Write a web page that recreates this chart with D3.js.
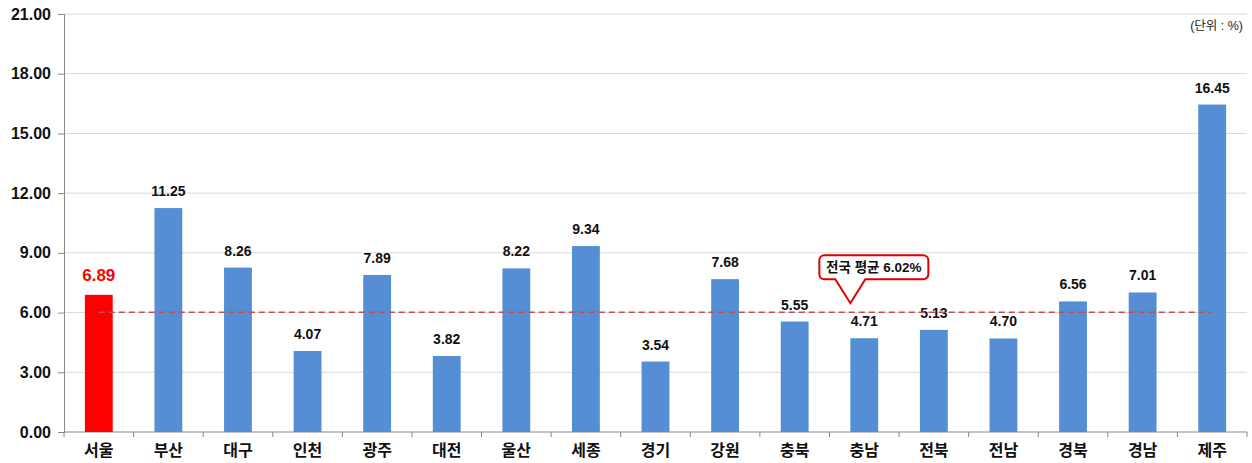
<!DOCTYPE html>
<html>
<head>
<meta charset="utf-8">
<script src="https://cdn.jsdelivr.net/npm/d3@7"></script>
<style>
  body { margin: 0; background: #fff; }
  text { font-family: "Liberation Sans", Arial, "Noto Sans CJK KR", sans-serif; font-weight: bold; }
</style>
</head>
<body>
<svg id="chart"></svg>
<script>
// regions and their rate (%)
const regions = ['서울','부산','대구','인천','광주','대전','울산','세종','경기','강원','충북','충남','전북','전남','경북','경남','제주'];
const rates = [6.89,11.25,8.26,4.07,7.89,3.82,8.22,9.34,3.54,7.68,5.55,4.71,5.13,4.70,6.56,7.01,16.45];
const yTicks = [0,3,6,9,12,15,18,21];
const avgRate = 6.02;
const avgLabel = '전국 평균 6.02%';
const unitLabel = '(단위 : %)';

const WIDTH = 1252, HEIGHT = 463;
const MARGIN = {left: 64, right: 5, top: 14, bottom: 31};

let svg = d3.select('#chart').attr('width', WIDTH).attr('height', HEIGHT);

let xScale = d3.scaleBand()
    .domain(regions)
    .range([MARGIN.left, WIDTH - MARGIN.right])
    .paddingInner(0.6)
    .paddingOuter(0.3);
let yScale = d3.scaleLinear()
    .domain([0, 21])
    .range([HEIGHT - MARGIN.bottom, MARGIN.top]);

// gridlines
svg.append('g').selectAll('line')
    .data(yTicks.filter(d => d > 0))
    .join('line')
    .attr('x1', MARGIN.left).attr('x2', WIDTH - MARGIN.right)
    .attr('y1', d => yScale(d)).attr('y2', d => yScale(d))
    .attr('stroke', '#d9d9d9').attr('stroke-width', 1);

// y axis
let yAxis = svg.append('g')
    .attr('transform', `translate(${MARGIN.left},0)`)
    .call(d3.axisLeft(yScale).tickValues(yTicks).tickFormat(d3.format('.2f')).tickSize(6).tickPadding(7));
yAxis.select('.domain').attr('stroke', '#888');
yAxis.selectAll('.tick line').attr('stroke', '#888');
yAxis.selectAll('.tick text').attr('font-size', '16px').attr('fill', '#111');

// x axis with ticks between categories
let xAxisG = svg.append('g').attr('transform', `translate(0,${yScale(0)})`);
xAxisG.append('line')
    .attr('x1', MARGIN.left).attr('x2', WIDTH - MARGIN.right)
    .attr('stroke', '#888');
let bounds = d3.range(regions.length + 1).map(i => MARGIN.left + (WIDTH - MARGIN.left - MARGIN.right) * i / regions.length);
xAxisG.selectAll('.sep')
    .data(bounds)
    .join('line')
    .attr('class', 'sep')
    .attr('x1', d => d).attr('x2', d => d)
    .attr('y1', 0).attr('y2', 5)
    .attr('stroke', '#888');
xAxisG.selectAll('.lbl')
    .data(regions)
    .join('text')
    .attr('class', 'lbl')
    .attr('x', d => xScale(d) + xScale.bandwidth() / 2)
    .attr('y', 24)
    .attr('text-anchor', 'middle')
    .attr('font-size', '16px')
    .attr('fill', '#111')
    .text(d => d);

// bars
svg.append('g').selectAll('rect')
    .data(regions)
    .join('rect')
    .attr('x', d => xScale(d))
    .attr('y', (d, i) => yScale(rates[i]))
    .attr('width', xScale.bandwidth())
    .attr('height', (d, i) => yScale(0) - yScale(rates[i]))
    .attr('fill', (d, i) => i === 0 ? '#ff0000' : '#558ed5');

// value labels
svg.append('g').selectAll('text')
    .data(regions)
    .join('text')
    .attr('x', d => xScale(d) + xScale.bandwidth() / 2)
    .attr('y', (d, i) => yScale(rates[i]) - (i === 0 ? 14 : 12))
    .attr('text-anchor', 'middle')
    .attr('font-size', (d, i) => i === 0 ? '17px' : '14px')
    .attr('fill', (d, i) => i === 0 ? '#ff0000' : '#111')
    .text((d, i) => rates[i].toFixed(2));

// national average dashed line
let xFirst = xScale(regions[0]) + xScale.bandwidth() / 2;
let xLast = xScale(regions[regions.length - 1]) + xScale.bandwidth() / 2;
svg.append('line')
    .attr('x1', xFirst).attr('x2', xLast)
    .attr('y1', yScale(avgRate)).attr('y2', yScale(avgRate))
    .attr('stroke', '#c0504d').attr('stroke-width', 1.5)
    .attr('stroke-dasharray', '6,4');

// callout
let tipX = xScale('충남'), tipY = yScale(avgRate) - 9;
let bx = tipX - 31, by = tipY - 48, bw = 109, bh = 24, r = 5;
let p = d3.path();
p.moveTo(bx + r, by);
p.lineTo(bx + bw - r, by);
p.arcTo(bx + bw, by, bx + bw, by + r, r);
p.lineTo(bx + bw, by + bh - r);
p.arcTo(bx + bw, by + bh, bx + bw - r, by + bh, r);
p.lineTo(tipX + 15, by + bh);
p.lineTo(tipX, tipY);
p.lineTo(tipX - 15, by + bh);
p.lineTo(bx + r, by + bh);
p.arcTo(bx, by + bh, bx, by + bh - r, r);
p.lineTo(bx, by + r);
p.arcTo(bx, by, bx + r, by, r);
p.closePath();
svg.append('path')
    .attr('d', p.toString())
    .attr('fill', '#fff')
    .attr('stroke', '#e00000')
    .attr('stroke-width', 2);
svg.append('text')
    .attr('x', bx + bw / 2)
    .attr('y', by + bh / 2 + 5)
    .attr('text-anchor', 'middle')
    .attr('font-size', '13.5px')
    .attr('fill', '#111')
    .text(avgLabel);

// unit label
svg.append('text')
    .attr('x', WIDTH - 9)
    .attr('y', 30)
    .attr('text-anchor', 'end')
    .attr('font-size', '12.5px')
    .attr('fill', '#222')
    .style('font-weight', 'normal')
    .text(unitLabel);
</script>
</body>
</html>
